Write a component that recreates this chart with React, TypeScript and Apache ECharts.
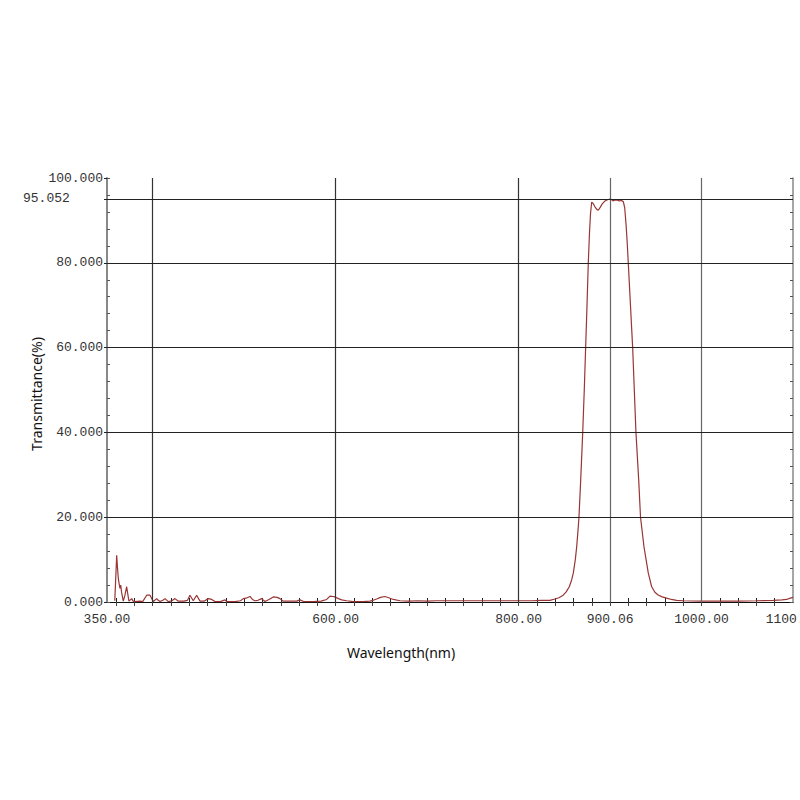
import React, { useEffect, useRef } from "react";
import * as echarts from "echarts";

// Wavelength (nm) samples of the measured spectrum
const wavelengths = [
  358.5, 360.6, 361.5, 362.4, 363.2, 364.2, 365, 366, 367.8, 369.5, 371.5, 373, 374, 377, 378.5,
  380.6, 386, 389, 393.4, 397, 400.6, 404.3, 406, 408, 411, 413.4, 417, 421, 424.3, 428, 434,
  438, 440.7, 444.3, 448, 451.7, 456, 460.8, 464.5, 468, 474, 479, 480.9, 490, 496, 499, 502,
  506.3, 509, 511.8, 515, 519, 522.7, 527, 531.8, 536, 539, 542.7, 550, 557.4, 561, 565, 575.5,
  584, 590.2, 593.8, 597, 599.3, 603, 606.6, 612, 619.3, 630, 637.5, 641, 644.8, 649, 653.9, 658,
  663, 670.3, 680, 690, 700, 710, 720, 740, 760, 780, 800, 815, 825, 834.3, 839.8, 844, 848.8,
  852, 855.4, 858, 859.8, 862, 863.5, 865, 866, 867.9, 870.1, 871.8, 873.3, 874.8, 876.2, 877.5,
  878.6, 879.9, 881.5, 883.5, 885.5, 887.1, 889, 891.5, 894, 896.5, 899.9, 901.5, 903.2, 905.5,
  907.6, 910, 912.7, 914.5, 916, 917.5, 918.8, 919.9, 922.3, 924.7, 926.5, 928.3, 931.3, 933.3,
  937.1, 941.8, 945.5, 949, 952.6, 957, 961.9, 967, 972.8, 980, 1000, 1020, 1040, 1060, 1078.4,
  1088, 1093, 1097, 1100,
];

// Transmittance (%) at each wavelength above
const transmittance = [
  0.3, 11, 8, 5.5, 4.4, 3.2, 4.0, 2.2, 0.2, 1.5, 3.6, 1.5, 0.2, 0.8, 0.2,
  0.1, 0.2, 0.1, 1.6, 1.6, 0.1, 0.8, 0.4, 0.1, 0.4, 0.8, 0.1, 0.3, 0.8, 0.2, 0.2,
  0.4, 1.6, 0.3, 1.6, 0.2, 0.2, 0.8, 0.6, 0.1, 0.1, 0.5, 0.1, 0.1, 0.3, 0.8, 0.9,
  1.3, 0.6, 0.3, 0.4, 0.8, 0.1, 0.6, 1.2, 1.1, 0.8, 0.2, 0.2, 0.2, 0.5, 0.1, 0.1,
  0.2, 0.6, 1.4, 1.3, 1.2, 0.8, 0.5, 0.3, 0.1, 0.1, 0.2, 0.4, 0.7, 1.1, 1.3, 1.0,
  0.6, 0.3, 0.2, 0.3, 0.2, 0.3, 0.3, 0.3, 0.3, 0.3, 0.3, 0.3, 0.4, 0.4, 0.7, 1.0, 1.6,
  2.4, 3.6, 5.2, 6.8, 10, 13, 17, 20, 28.8, 40, 50, 60, 70, 80, 87,
  91.5, 94.3, 94.0, 93.2, 92.6, 92.4, 93.0, 93.9, 94.5, 94.8, 95.05, 94.9, 94.6, 94.8,
  94.8, 94.6, 94.7, 94.4, 93.0, 89.0, 84.5, 80, 70, 60, 50, 40, 28.8, 20,
  13, 6.8, 3.6, 2.3, 1.65, 1.2, 0.9, 0.6, 0.4, 0.3, 0.2, 0.2, 0.2, 0.3, 0.4,
  0.5, 0.6, 0.9, 1.1,
];

const xLabelValues = [350, 600, 800, 900.06, 1000, 1100];
const xGridValues = [400, 600, 800, 900.06, 1000];
const xMinorTicks = [
  360, 380, 400, 420, 440, 460, 480, 500, 520, 540, 560, 580, 600, 620, 640, 660, 680, 700, 720,
  740, 760, 780, 800, 820, 840, 860, 880, 900, 920, 940, 960, 980, 1000, 1020, 1040, 1060, 1080,
];
const yLabelValues = [0, 20, 40, 60, 80, 95.052, 100];
const yGridValues = [20, 40, 60, 80, 95.052];

const xName = "Wavelength(nm)";
const yName = "Transmittance(%)";

const labelFont = "'Liberation Mono', 'DejaVu Sans Mono', monospace";
const nameFont = "'Noto Sans', 'DejaVu Sans', sans-serif";

export default function App() {
  const ref = useRef<HTMLDivElement>(null);

  useEffect(() => {
    if (!ref.current) return;
    const chart = echarts.init(ref.current, undefined, { renderer: "svg" });
    const data = wavelengths.map((w, i) => [w, transmittance[i]]);

    chart.setOption({
      animation: false,
      backgroundColor: "#ffffff",
      grid: {
        left: 107,
        right: 7,
        top: 178,
        bottom: 198,
        containLabel: false,
        outerBoundsMode: "none",
      },
      xAxis: [
        {
          type: "value",
          position: "bottom",
          min: 350,
          max: 1100,
          axisLine: { show: true, lineStyle: { color: "#444", width: 1 } },
          axisTick: {
            show: true,
            inside: true,
            length: 4,
            customValues: xMinorTicks,
            lineStyle: { color: "#222", width: 1 },
          },
          axisLabel: {
            show: true,
            customValues: xLabelValues,
            formatter: (v: number) => v.toFixed(2),
            margin: 11,
            fontFamily: labelFont,
            fontSize: 13,
            color: "#333",
          },
          splitLine: { show: false },
        },
        {
          type: "value",
          position: "top",
          min: 350,
          max: 1100,
          axisLine: { show: true, lineStyle: { color: "#111", width: 1 } },
          axisTick: {
            show: true,
            inside: true,
            length: 4,
            customValues: xMinorTicks,
            lineStyle: { color: "#444", width: 1 },
          },
          axisLabel: { show: false },
          splitLine: { show: false },
        },
      ],
      yAxis: [
        {
          type: "value",
          position: "left",
          min: 0,
          max: 100,
          axisLine: { show: true, lineStyle: { color: "#888", width: 2 } },
          axisTick: {
            show: true,
            inside: false,
            length: 3,
            customValues: yLabelValues,
            lineStyle: { color: "#222", width: 1 },
          },
          axisLabel: {
            show: true,
            customValues: yLabelValues,
            formatter: (v: number) =>
              Math.abs(v - 95.052) < 1e-6 ? "{a|" + v.toFixed(3) + "}" : v.toFixed(3),
            margin: 4,
            fontFamily: labelFont,
            fontSize: 13,
            color: "#333",
            rich: {
              a: {
                width: 80,
                align: "left",
                fontFamily: labelFont,
                fontSize: 13,
                color: "#333",
              },
            },
          },
          splitLine: { show: false },
        },
        {
          type: "value",
          position: "right",
          min: 0,
          max: 100,
          interval: 4,
          axisLine: { show: true, lineStyle: { color: "#888", width: 1.5 } },
          axisTick: { show: true, inside: true, length: 3, lineStyle: { color: "#555" } },
          axisLabel: { show: false },
          splitLine: { show: false },
        },
        {
          type: "value",
          position: "left",
          min: 0,
          max: 100,
          interval: 4,
          axisLine: { show: false },
          axisTick: { show: true, inside: true, length: 3, lineStyle: { color: "#555" } },
          axisLabel: { show: false },
          splitLine: { show: false },
        },
      ],
      graphic: [
        {
          type: "text",
          x: 401,
          y: 652,
          style: {
            text: xName,
            align: "center",
            verticalAlign: "middle",
            fontFamily: nameFont,
            fontSize: 14,
            fill: "#111",
          },
        },
        {
          type: "text",
          x: 36,
          y: 394,
          rotation: Math.PI / 2,
          style: {
            text: yName,
            align: "center",
            verticalAlign: "middle",
            fontFamily: nameFont,
            fontSize: 14,
            fill: "#111",
          },
        },
      ],
      series: [
        {
          type: "line",
          xAxisIndex: 0,
          yAxisIndex: 0,
          data,
          showSymbol: false,
          symbol: "none",
          smooth: false,
          lineStyle: { color: "#9a3535", width: 1.2 },
          markLine: {
            silent: true,
            symbol: ["none", "none"],
            label: { show: false },
            lineStyle: { color: "#222", width: 1, type: "solid" },
            data: [
              ...xGridValues.map((v) => ({
                xAxis: v,
                lineStyle: { color: v > 850 ? "#666" : "#333", width: 1.2, type: "solid" },
              })),
              ...yGridValues.map((v) => ({ yAxis: v })),
            ],
          },
        },
      ],
    });

    return () => chart.dispose();
  }, []);

  return (
    <div
      ref={ref}
      style={{ position: "absolute", left: 0, top: 0, width: 800, height: 800, background: "#fff" }}
    />
  );
}
